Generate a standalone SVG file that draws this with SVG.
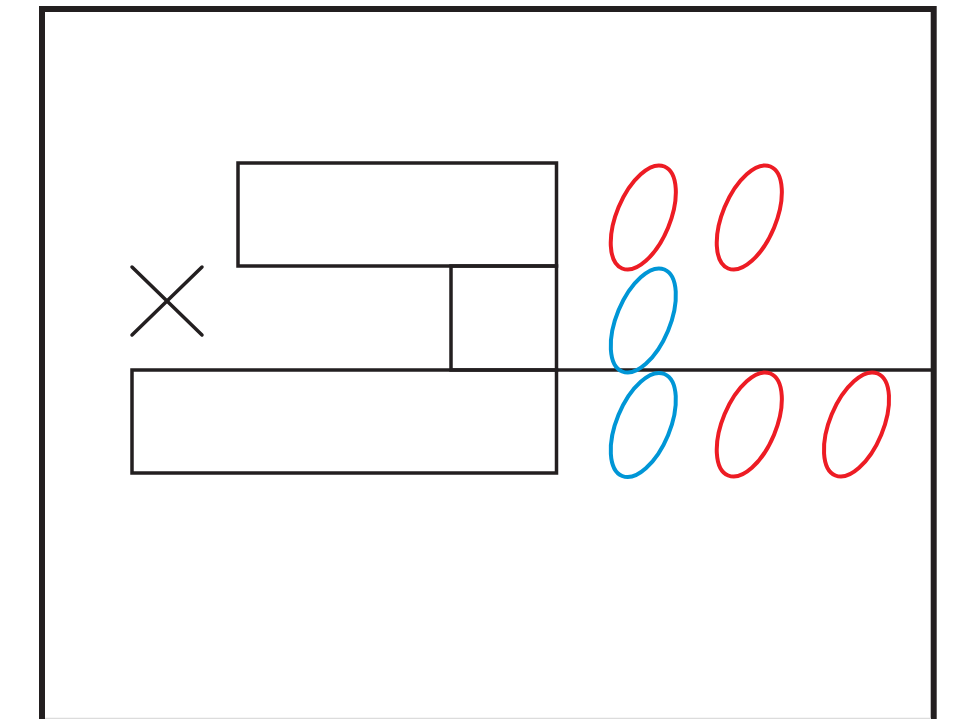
<svg xmlns="http://www.w3.org/2000/svg" width="956" height="719" viewBox="0 0 956 719">
<style>
.frame{fill:none;stroke:#231f20;stroke-width:6}
.box{fill:none;stroke:#231f20;stroke-width:3.5}
.ln{stroke:#231f20;stroke-width:3.5;fill:none}
.x{stroke:#231f20;stroke-width:3.5;stroke-linecap:round}
.red{fill:none;stroke:#ed1c24;stroke-width:4}
.blue{fill:none;stroke:#0096d6;stroke-width:4}
</style>
<defs>
<ellipse id="ov" cx="0" cy="0" rx="26.8" ry="55.2" transform="rotate(22.5)"/>
</defs>
<rect width="956" height="719" fill="#ffffff"/>
<g id="frame">
<path class="frame" d="M42,730 V9 H933.7 V730"/>
<line x1="45" y1="718.5" x2="931" y2="718.5" stroke="#dcdcdc" stroke-width="1.5"/>
</g>
<g id="connectors">
<line class="ln" x1="556.5" y1="370" x2="931" y2="370"/>
</g>
<g id="top-rect"><rect class="box" x="238" y="163" width="318.5" height="103"/></g>
<g id="small-rect"><rect class="box" x="451" y="266" width="105.5" height="104"/></g>
<g id="bottom-rect"><rect class="box" x="132" y="370" width="424.5" height="103"/></g>
<g id="cross">
<line class="x" x1="132" y1="267" x2="202" y2="335"/>
<line class="x" x1="202" y1="267" x2="132" y2="335"/>
</g>
<g id="red-1"><use href="#ov" class="red" transform="translate(643.3,217.5)"/></g>
<g id="red-2"><use href="#ov" class="red" transform="translate(749.3,217.5)"/></g>
<g id="blue-1"><use href="#ov" class="blue" transform="translate(643.3,320.5)"/></g>
<g id="blue-2"><use href="#ov" class="blue" transform="translate(643.3,425)"/></g>
<g id="red-3"><use href="#ov" class="red" transform="translate(749.3,424.5)"/></g>
<g id="red-4"><use href="#ov" class="red" transform="translate(856.5,424.5)"/></g>
</svg>
